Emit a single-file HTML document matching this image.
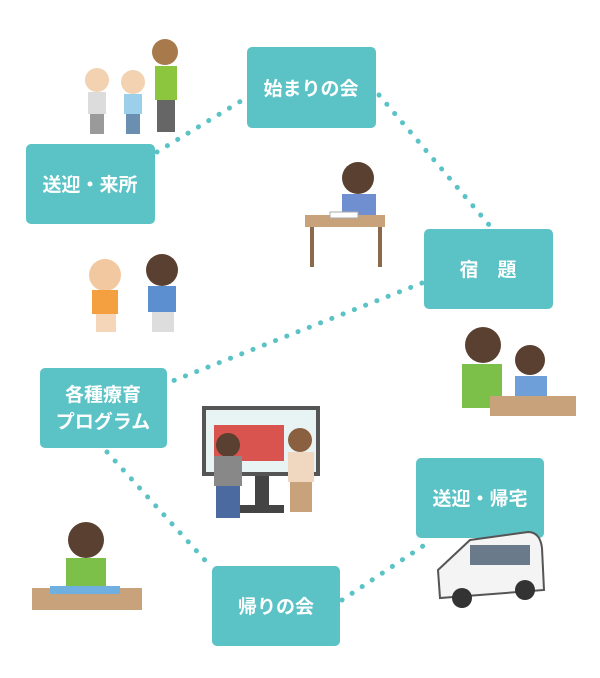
<!DOCTYPE html>
<html><head><meta charset="utf-8"><style>
body{margin:0;background:#fff;}
svg{display:block}
text{font-family:"Liberation Sans","Noto Sans CJK JP",sans-serif;font-weight:bold;fill:#fff;font-size:19px;text-anchor:middle}
</style></head><body>
<svg width="600" height="678" viewBox="0 0 600 678" xmlns="http://www.w3.org/2000/svg">
<g stroke="#5bc2c6" stroke-width="5" stroke-linecap="round" stroke-dasharray="0.1 12" fill="none">
<line x1="157" y1="152" x2="246" y2="98"/>
<line x1="379" y1="95" x2="490" y2="226"/>
<line x1="422" y1="283" x2="170" y2="382"/>
<line x1="107" y1="452" x2="212" y2="568"/>
<line x1="342" y1="600" x2="432" y2="540"/>
</g>
<g fill="#5bc2c6">
<rect x="26" y="144" width="129" height="80" rx="5"/>
<rect x="247" y="47" width="129" height="81" rx="5"/>
<rect x="424" y="229" width="129" height="80" rx="5"/>
<rect x="40" y="368" width="127" height="80" rx="5"/>
<rect x="416" y="458" width="128" height="80" rx="5"/>
<rect x="212" y="566" width="128" height="80" rx="5"/>
</g>
<text x="90" y="191">送迎・来所</text>
<text x="311" y="95">始まりの会</text>
<text x="488" y="276">宿　題</text>
<text x="103" y="401">各種療育</text>
<text x="103" y="428">プログラム</text>
<text x="480" y="505">送迎・帰宅</text>
<text x="276" y="613">帰りの会</text>
<g>
<circle cx="97" cy="80" r="12" fill="#f2d2b0"/><rect x="88" y="92" width="18" height="22" fill="#dcdcdc"/><rect x="90" y="114" width="14" height="20" fill="#9a9a9a"/>
<circle cx="133" cy="82" r="12" fill="#f2d2b0"/><rect x="124" y="94" width="18" height="20" fill="#9cd0ea"/><rect x="126" y="114" width="14" height="20" fill="#6a8fb0"/>
<circle cx="165" cy="52" r="13" fill="#a8794a"/><rect x="155" y="66" width="22" height="34" fill="#8cc63f"/><rect x="157" y="100" width="18" height="32" fill="#666"/>
</g>
<g>
<circle cx="358" cy="178" r="16" fill="#5a4030"/><rect x="342" y="194" width="34" height="28" fill="#6f8fd0"/>
<rect x="305" y="215" width="80" height="12" fill="#c7a27a"/><rect x="310" y="227" width="4" height="40" fill="#8a6a4a"/><rect x="378" y="227" width="4" height="40" fill="#8a6a4a"/>
<rect x="330" y="212" width="28" height="6" fill="#fff" stroke="#aaa"/>
</g>
<g>
<circle cx="105" cy="275" r="16" fill="#f2c8a0"/><rect x="92" y="290" width="26" height="24" fill="#f5a040"/><rect x="96" y="314" width="20" height="18" fill="#f5d6b8"/>
<circle cx="162" cy="270" r="16" fill="#5a4030"/><rect x="148" y="286" width="28" height="26" fill="#5b8fd0"/><rect x="152" y="312" width="22" height="20" fill="#ddd"/>
</g>
<g>
<circle cx="483" cy="345" r="18" fill="#5a4030"/><rect x="462" y="364" width="40" height="44" fill="#7cc04a"/>
<circle cx="530" cy="360" r="15" fill="#5a4030"/><rect x="515" y="376" width="32" height="24" fill="#6f9fd8"/>
<rect x="490" y="396" width="86" height="20" fill="#c7a27a"/>
</g>
<g>
<rect x="202" y="406" width="118" height="70" fill="#555"/><rect x="206" y="410" width="110" height="62" fill="#e8f4f4"/>
<rect x="214" y="425" width="70" height="36" fill="#d9534f"/>
<rect x="255" y="476" width="14" height="30" fill="#444"/><rect x="240" y="505" width="44" height="8" fill="#444"/>
<circle cx="228" cy="445" r="12" fill="#5a4030"/><rect x="214" y="456" width="28" height="30" fill="#888"/><rect x="216" y="486" width="24" height="32" fill="#4a6aa0"/>
<circle cx="300" cy="440" r="12" fill="#8a6040"/><rect x="288" y="452" width="26" height="30" fill="#f0d8c0"/><rect x="290" y="482" width="22" height="30" fill="#c7a27a"/>
</g>
<g>
<circle cx="86" cy="540" r="18" fill="#5a4030"/><rect x="66" y="558" width="40" height="30" fill="#7cc04a"/>
<rect x="32" y="588" width="110" height="22" fill="#c7a27a"/><rect x="50" y="586" width="70" height="8" fill="#6fb0e0"/>
</g>
<g>
<path d="M438 570 L470 540 L528 532 Q540 532 542 548 L544 590 L440 598 Z" fill="#f4f4f4" stroke="#555" stroke-width="2"/>
<rect x="470" y="545" width="60" height="20" fill="#6b7a8a"/>
<circle cx="462" cy="598" r="10" fill="#333"/><circle cx="525" cy="590" r="10" fill="#333"/>
</g>
</svg>
</body></html>
